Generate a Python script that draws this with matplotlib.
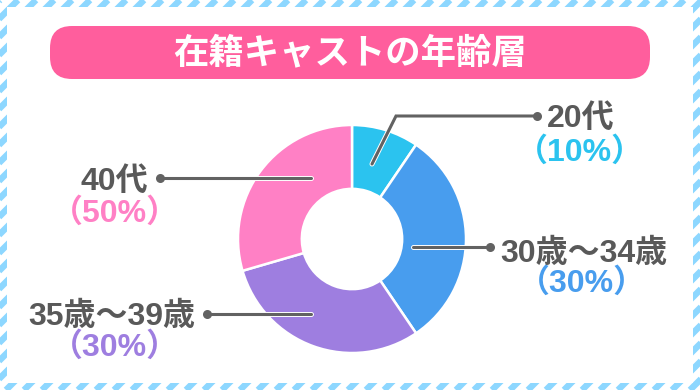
import matplotlib.pyplot as plt
import matplotlib.patheffects as pe
from matplotlib.patches import FancyBboxPatch, Rectangle

plt.rcParams['font.family'] = ['Noto Sans CJK JP', 'DejaVu Sans']
label_font = ['Liberation Sans', 'Noto Sans CJK JP']

# data
title = '在籍キャストの年齢層'
groups = ['20代', '30歳～34歳', '35歳～39歳', '40代']
shares = [9.5, 31.0, 30.0, 29.5]          # wedge sizes as drawn
pct_labels = ['（10%）', '（30%）', '（30%）', '（50%）']
colors = ['#2BC3EF', '#489DEE', '#9E7EE0', '#FF80C5']

# layout (pixel coords, y down)
W, H = 700, 390
cx, cy, R = 352, 239, 114
# name x, name baseline, name ha, pct center x, pct baseline
text_pos = [(547, 127, 'left', 580, 161),
            (500, 262, 'left', 582, 292),
            (195, 325, 'right', 115, 356),
            (148, 190, 'right', 115, 222)]
# leader line paths, from wedge to dot
leaders = [[(372, 164), (396, 116), (537, 116)],
           [(413, 247), (490, 247)],
           [(311, 314), (207, 314)],
           [(311, 178), (160, 178)]]

fig = plt.figure(figsize=(W / 100, H / 100), dpi=100)
bg = fig.add_axes([0, 0, 1, 1])
bg.set_xlim(0, W)
bg.set_ylim(H, 0)
bg.axis('off')

# striped frame
for c in range(-H, W + H, 18):
    bg.plot([c, c + H], [H, 0], color='#8DD7FF', lw=4.6,
            solid_capstyle='butt', zorder=1)
bg.add_patch(Rectangle((7, 7), 686, 376, fc='white', ec='none', zorder=2))

# title bar
bg.add_patch(FancyBboxPatch((50, 26), 600, 53,
                            boxstyle='round,pad=0,rounding_size=22',
                            fc='#FF5E9D', ec='none', zorder=3))
bg.text(350, 53, title, color='white', fontsize=25.5, fontweight='bold',
        ha='center', va='center', zorder=4)

# donut
pax = fig.add_axes([(cx - R) / W, (H - cy - R) / H, 2 * R / W, 2 * R / H])
pax.pie(shares, colors=colors, startangle=90, counterclock=False,
        radius=1, wedgeprops=dict(width=0.56, edgecolor='white', linewidth=1.8))
pax.set_xlim(-1, 1)
pax.set_ylim(-1, 1)
pax.axis('off')

# labels and leader lines on top
top = fig.add_axes([0, 0, 1, 1])
top.set_xlim(0, W)
top.set_ylim(H, 0)
top.axis('off')
top.patch.set_alpha(0)

line_fx = [pe.Stroke(linewidth=3.6, foreground='white'), pe.Normal()]
for name, pct, col, (nx, ny, ha, px, py), path in zip(
        groups, pct_labels, colors, text_pos, leaders):
    xs = [p[0] for p in path]
    ys = [p[1] for p in path]
    top.plot(xs, ys, color='#626262', lw=2.2, solid_capstyle='round',
             solid_joinstyle='miter', path_effects=line_fx)
    top.plot(xs[-1], ys[-1], 'o', color='#626262', ms=6.5, mec='none')
    top.text(nx, ny, name, color='#595959', fontsize=23, fontweight='bold',
             family=label_font, ha=ha, va='baseline')
    top.text(px, py, pct, color=col, fontsize=23, fontweight='bold',
             family=label_font, ha='center', va='baseline')

fig.savefig('out.png', dpi=100)
